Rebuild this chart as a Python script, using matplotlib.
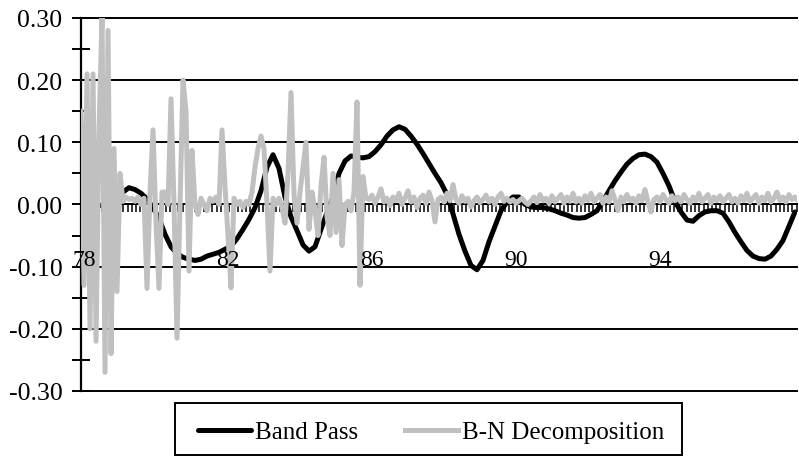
import numpy as np
import matplotlib
matplotlib.use('Agg')
import matplotlib.pyplot as plt
from matplotlib.ticker import MultipleLocator, FormatStrFormatter
from matplotlib.patches import Rectangle

plt.rcParams['font.family'] = ['Liberation Serif', 'DejaVu Serif']
plt.rcParams['axes.unicode_minus'] = False

# band pass cycle, every 2 months from 1978:1
band_pass = [
    -0.010, -0.008, -0.005, -0.002, 0.000, 0.004, 0.008, 0.020, 0.027, 0.024, 0.018, 0.009,
    -0.005, -0.022, -0.048, -0.068, -0.079, -0.085, -0.088, -0.090, -0.088, -0.083, -0.080, -0.077,
    -0.072, -0.067, -0.055, -0.040, -0.024, -0.005, 0.022, 0.060, 0.080, 0.058, 0.012, -0.020,
    -0.042, -0.065, -0.075, -0.068, -0.040, -0.013, 0.012, 0.050, 0.070, 0.078, 0.076, 0.075,
    0.077, 0.085, 0.096, 0.110, 0.120, 0.125, 0.121, 0.110, 0.097, 0.082, 0.066, 0.050,
    0.035, 0.016, -0.015, -0.048, -0.075, -0.098, -0.105, -0.090, -0.060, -0.035, -0.010, 0.004,
    0.012, 0.012, 0.000, -0.004, -0.005, -0.005, -0.007, -0.010, -0.014, -0.017, -0.021, -0.022,
    -0.021, -0.016, -0.010, 0.005, 0.022, 0.038, 0.052, 0.065, 0.074, 0.080, 0.081, 0.077,
    0.068, 0.050, 0.030, 0.005, -0.012, -0.025, -0.027, -0.018, -0.012, -0.010, -0.010, -0.014,
    -0.028, -0.045, -0.060, -0.074, -0.083, -0.087, -0.088, -0.083, -0.072, -0.058, -0.035, -0.012,
]

# Beveridge-Nelson cycle, monthly from 1978:1
bn_decomp = [
    0.150, -0.130, 0.210, -0.200, 0.210, -0.220, 0.120, 0.300, -0.270, 0.280, -0.240, 0.090,
    -0.140, 0.050, 0.005, 0.012, 0.008, 0.010, 0.005, 0.012, 0.000, 0.010, -0.135, 0.020,
    0.120, -0.030, -0.135, 0.020, 0.020, 0.000, 0.170, 0.000, -0.215, 0.000, 0.200, 0.150,
    -0.107, 0.087, 0.000, -0.016, 0.010, 0.000, -0.010, 0.010, 0.005, 0.012, 0.000, 0.120,
    0.030, -0.050, -0.134, 0.010, 0.000, 0.005, -0.005, 0.005, 0.000, 0.020, 0.060, 0.090,
    0.110, 0.090, 0.000, -0.107, 0.010, 0.000, 0.010, -0.005, -0.030, 0.050, 0.180, 0.016,
    -0.030, 0.020, 0.060, 0.100, -0.040, 0.020, -0.010, -0.050, 0.030, 0.076, -0.020, -0.050,
    0.050, -0.045, 0.040, -0.066, 0.000, 0.005, -0.010, 0.020, 0.165, -0.130, 0.045, 0.010,
    0.008, 0.015, 0.002, 0.012, 0.025, 0.004, 0.010, -0.002, 0.012, 0.006, 0.018, 0.000,
    0.010, 0.022, 0.004, 0.012, -0.005, 0.010, 0.015, 0.002, 0.020, 0.006, -0.028, 0.008,
    0.012, 0.004, 0.018, 0.006, 0.032, 0.008, 0.002, 0.014, 0.005, 0.010, -0.004, 0.006,
    0.012, 0.003, 0.008, 0.015, 0.004, 0.010, 0.000, 0.012, 0.018, 0.005, 0.010, 0.004,
    0.008, 0.002, 0.006, 0.010, 0.004, 0.000, 0.006, 0.012, 0.003, 0.016, 0.006, 0.010,
    0.002, 0.014, 0.004, 0.010, 0.016, 0.002, 0.012, 0.005, 0.018, 0.004, 0.010, 0.002,
    0.014, 0.006, 0.018, 0.004, 0.010, 0.016, 0.002, 0.012, 0.004, 0.022, 0.008, -0.010,
    0.012, 0.004, 0.016, 0.006, 0.010, 0.002, 0.014, 0.006, 0.024, 0.004, -0.012, 0.008,
    0.012, 0.004, 0.016, 0.008, 0.002, 0.014, 0.006, 0.012, 0.004, 0.016, 0.008, 0.002,
    0.012, 0.006, 0.018, 0.004, 0.010, 0.016, 0.002, 0.012, 0.006, 0.014, 0.004, 0.010,
    0.016, 0.004, 0.010, 0.002, 0.014, 0.006, 0.018, 0.004, 0.010, 0.016, 0.002, 0.012,
    0.006, 0.018, 0.004, 0.010, 0.020, 0.006, 0.012, 0.004, 0.016, 0.008, 0.012, 0.006,
]

year_ticks = [1978, 1982, 1986, 1990, 1994]
year_labels = ['78', '82', '86', '90', '94']

t_bp = 1978 + np.arange(len(band_pass)) / 6
t_bn = 1978 + np.arange(len(bn_decomp)) / 12

fig = plt.figure(figsize=(7.99, 4.64), dpi=100)
ax = fig.add_axes([0.1014, 0.1552, 0.8961, 0.8039])

ax.plot(t_bp, band_pass, color='black', lw=3.6, label='Band Pass', zorder=3,
        solid_joinstyle='round', solid_capstyle='round')
ax.plot(t_bn, bn_decomp, color='#c0c0c0', lw=3.6, label='B-N Decomposition', zorder=4,
        solid_joinstyle='round')

ax.set_xlim(1978, 1997.89)
ax.set_ylim(-0.3, 0.3)

for yv in np.arange(-0.3, 0.31, 0.1):                     # horizontal gridlines
    ax.axhline(yv, color='black', lw=1.4, zorder=1, clip_on=False)

for s in ['top', 'right']:
    ax.spines[s].set_visible(False)
ax.spines['bottom'].set_position(('data', 0))
ax.spines['bottom'].set_linewidth(1.4)
ax.spines['left'].set_linewidth(1.6)

ax.set_xticks([])
ax.xaxis.set_minor_locator(MultipleLocator(20 / 170))
ax.tick_params(axis='x', which='minor', direction='out', length=6, width=1.1, color='black')

ax.yaxis.set_major_locator(MultipleLocator(0.1))
ax.yaxis.set_minor_locator(MultipleLocator(0.05))
ax.yaxis.set_major_formatter(FormatStrFormatter('%.2f'))
ax.tick_params(axis='y', which='both', direction='inout', length=13, width=1.4,
               labelsize=18.5, pad=7)

for yr, lab in zip(year_ticks, year_labels):               # year labels sit over the lines
    ax.text(yr + 0.083, -0.097, lab, ha='center', va='baseline', fontsize=17, zorder=6)

fig.patches.append(Rectangle((175 / 799, 1 - 456 / 464), 507 / 799, 52 / 464,
                             transform=fig.transFigure, fill=False,
                             edgecolor='black', lw=1.4))
fig.legend(loc='center', bbox_to_anchor=(0.5394, 0.0668), ncol=2, frameon=False,
           fontsize=18, handlelength=2.1, handletextpad=0.16, columnspacing=1.9)

fig.savefig('out.png', dpi=100)
